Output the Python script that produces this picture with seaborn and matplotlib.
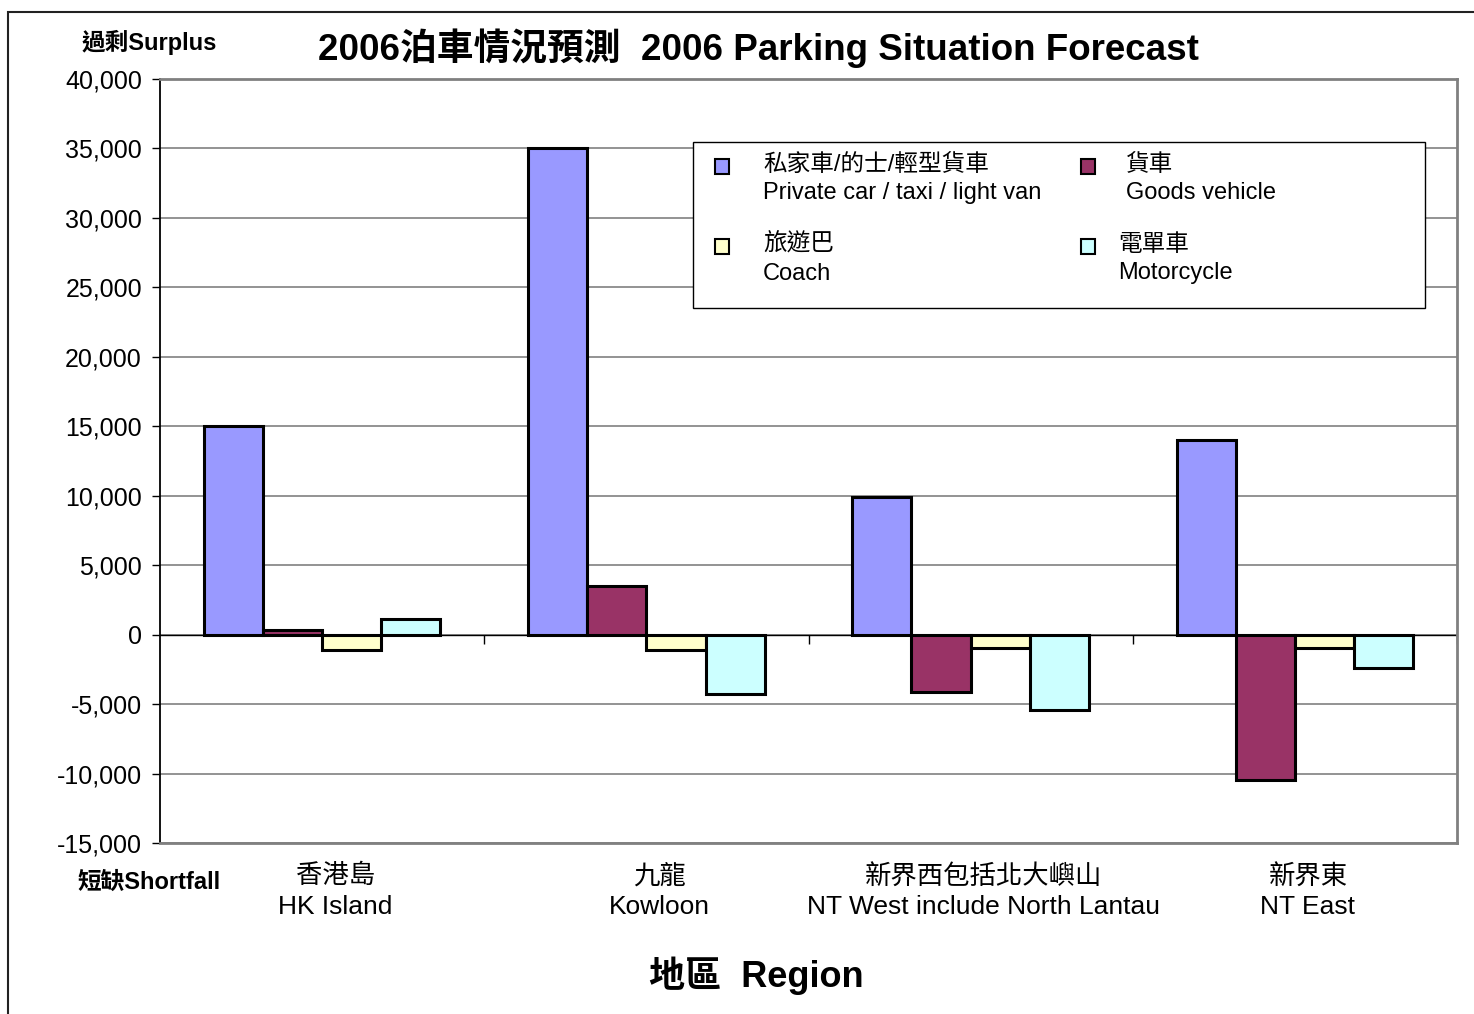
import pandas as pd
import seaborn as sns
import matplotlib.pyplot as plt
import matplotlib.transforms as mtransforms
from matplotlib.patches import Rectangle
from matplotlib.ticker import FuncFormatter

# Datos
regions = ["香港島\nHK Island", "九龍\nKowloon",
           "新界西包括北大嶼山\nNT West include North Lantau", "新界東\nNT East"]
vehicles = ["私家車/的士/輕型貨車\nPrivate car / taxi / light van",
            "貨車\nGoods vehicle", "旅遊巴\nCoach", "電單車\nMotorcycle"]
private_car = [15000, 35000, 9900, 14000]
goods_vehicle = [350, 3500, -4100, -10500]
coach = [-1100, -1100, -950, -950]
motorcycle = [1100, -4250, -5400, -2400]
colours = ["#9999FF", "#993366", "#FFFFCC", "#CCFFFF"]
y_ticks = list(range(-15000, 40001, 5000))

series = [private_car, goods_vehicle, coach, motorcycle]
rows = []
for veh, vals in zip(vehicles, series):
    for reg, v in zip(regions, vals):
        rows.append({"region": reg, "vehicle": veh, "value": v})
df = pd.DataFrame(rows)

sns.set_theme(style="white", rc={"text.color": "black", "axes.labelcolor": "black",
                                 "xtick.color": "black", "ytick.color": "black"})
plt.rcParams['font.family'] = ['Liberation Sans', 'Noto Sans CJK TC', 'DejaVu Sans']

W, H = 1474, 1014
fig = plt.figure(figsize=(W / 100, H / 100), dpi=100)
ax = fig.add_axes([160 / W, 1 - 843 / H, (1457 - 160) / W, (843 - 79) / H])

sns.barplot(data=df, x="region", y="value", hue="vehicle", order=regions,
            hue_order=vehicles, palette=colours, saturation=1, width=0.73,
            edgecolor="black", linewidth=2.2, legend=False, ax=ax, zorder=3)

ax.set_xlim(-0.5, 3.5)
ax.set_ylim(-15000, 40000)
ax.set_yticks(y_ticks)
ax.yaxis.set_major_formatter(FuncFormatter(lambda v, p: f"{v:,.0f}"))
ax.yaxis.grid(True, color="#808080", lw=1.2)
ax.set_axisbelow(True)
ax.axhline(0, color="black", lw=1, zorder=2)
# marcas de separación de categorías sobre el eje cero
ax.vlines([0.5, 1.5, 2.5, 3.5], -650, 0, color="black", lw=1, zorder=2)

for side in ["top", "right", "bottom"]:
    ax.spines[side].set_color("#808080")
    ax.spines[side].set_linewidth(2)
ax.spines["left"].set_color("black")
ax.spines["left"].set_linewidth(1.3)

ax.tick_params(axis="y", left=True, length=6, width=1, pad=7, labelsize=18)
ax.tick_params(axis="x", bottom=False, length=0, pad=15, labelsize=19)
ax.set_xlabel("")
ax.set_ylabel("")
shift = mtransforms.ScaledTranslation(0.13, 0, fig.dpi_scale_trans)
for lab in ax.get_xticklabels():
    lab.set_transform(lab.get_transform() + shift)
    lab.set_linespacing(1.35)


# Leyenda dibujada a mano (coordenadas en píxeles de la figura)
def px(x, y):
    return x / W, 1 - y / H


fig.patches.append(Rectangle(px(693, 308), (1425 - 693) / W, (308 - 142) / H,
                             transform=fig.transFigure, facecolor="white",
                             edgecolor="black", lw=1, zorder=5))
legend_pos = [(715, 763, 166), (1081, 1126, 166), (715, 763, 246), (1081, 1118, 246)]
for (mx, tx, my), lab, col in zip(legend_pos, vehicles, colours):
    fig.patches.append(Rectangle(px(mx, my + 8), 14 / W, 15 / H, transform=fig.transFigure,
                                 facecolor=col, edgecolor="black", lw=1.5, zorder=6))
    fig.text(*px(tx, my + 13), lab, ha="left", va="center", fontsize=17,
             linespacing=1.4, zorder=6)

# Títulos y rótulos
fig.text(758 / W, 1 - 48 / H, "2006泊車情況預測  2006 Parking Situation Forecast",
         ha="center", va="center", fontsize=26.5, fontweight="bold")
fig.text(149 / W, 1 - 42 / H, "過剩Surplus", ha="center", va="center",
         fontsize=17, fontweight="bold")
fig.text(149 / W, 1 - 882 / H, "短缺Shortfall", ha="center", va="center",
         fontsize=17, fontweight="bold")
fig.text(756 / W, 1 - 976 / H, "地區  Region", ha="center", va="center",
         fontsize=26, fontweight="bold")

# Marco exterior
fig.patches.append(Rectangle((8 / W, -0.1), 1.2, 1.1 - 12 / H, transform=fig.transFigure,
                             fill=False, edgecolor="#222222", lw=1.5, clip_on=False))

fig.savefig("out.png", dpi=100)
